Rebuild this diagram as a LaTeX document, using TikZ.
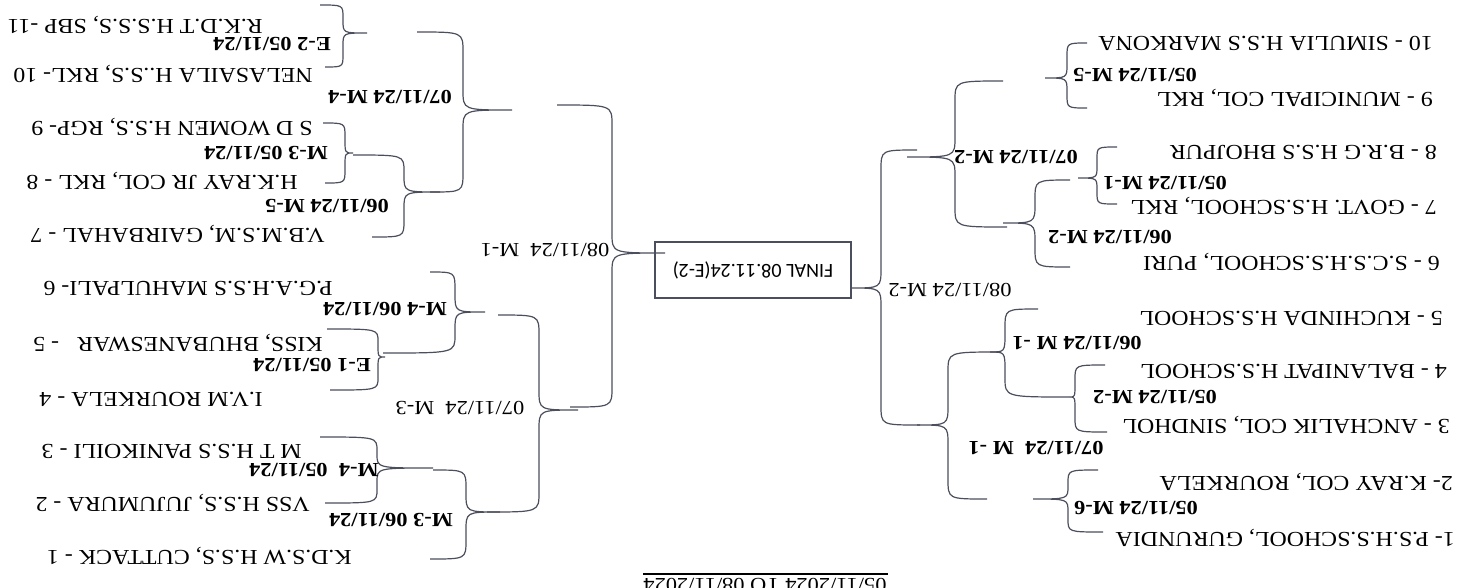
\documentclass[tikz,border=0pt]{standalone}
\usepackage{fontspec}
\setmainfont{Liberation Serif}[FakeStretch=1.12]
\newfontfamily\finalfont{Carlito}
\definecolor{bline}{RGB}{75,78,92}

\tikzset{
    team/.style   = {rotate=180, anchor=mid west, inner sep=0pt, font=\fontsize{16}{19}\selectfont},
    datebf/.style = {rotate=180, inner sep=0pt, font=\bfseries\fontsize{15}{18}\selectfont},
    datert/.style = {rotate=180, inner sep=0pt, font=\fontsize{15}{18}\selectfont},
    brace/.style  = {draw=bline, line width=0.9pt},
}

% 括号: 名字, 上端 x, 上端 y, 竖线 x, 尖 x, 尖 y, 下端 x, 下端 y
\newcommand{\matchbrace}[8]{%
    \pgfmathsetmacro\braceR{min(20,0.45*(#6-#3),0.45*(#8-#6))}
    \draw[brace] (#2,#3) .. controls (#4,#3) .. (#4,{#3+\braceR}) -- (#4,{#6-\braceR})
        .. controls (#4,#6) .. (#5,#6) coordinate (#1)
        .. controls (#4,#6) .. (#4,{#6+\braceR}) -- (#4,{#8-\braceR})
        .. controls (#4,#8) .. (#7,#8);
}

\begin{document}
\begin{tikzpicture}[
    x=0.75pt,y=0.75pt,
    yscale=-1,xscale=1,
]
    \clip (0,0) rectangle (1462,587);

    % 左边队伍
    \node[team] (l11) at (263,23)  {R.K.D.T H.S.S.S, SBP -11};
    \node[team] (l10) at (313,72)  {NELASAILA H..S.S, RKL- 10};
    \node[team] (l9)  at (313,125) {S D WOMEN H.S.S, RGP- 9};
    \node[team] (l8)  at (298,179) {H.K.RAY JR COL, RKL - 8};
    \node[team] (l7)  at (325,232) {V.B.M.S.M, GAIRBAHAL - 7};
    \node[team] (l6)  at (333,285) {P.G.A.H.S.S MAHULPALI- 6};
    \node[team] (l5)  at (323,341) {KISS, BHUBANESWAR\ \ \ - 5};
    \node[team] (l4)  at (263,396) {I.V.M ROURKELA - 4};
    \node[team] (l3)  at (302,448) {M T H.S.S PANIKOILI - 3};
    \node[team] (l2)  at (310,501) {VSS H.S.S, JUJUMURA - 2};
    \node[team] (l1)  at (352,554) {K.D.S.W H.S.S, CUTTACK - 1};

    % 右边队伍
    \node[team] (r10) at (1433,40)  {10 - SIMULIA H.S.S MARKONA};
    \node[team] (r9)  at (1433,96)  {9 - MUNICIPAL COL, RKL};
    \node[team] (r8)  at (1437,149) {8 - B.R.G H.S.S BHOJPUR};
    \node[team] (r7)  at (1437,204) {7 - GOVT. H.S.SCHOOL, RKL};
    \node[team] (r6)  at (1440,260) {6 - S.C.S.H.S.SCHOOL, PURI};
    \node[team] (r5)  at (1443,315) {5 - KUCHINDA H.S.SCHOOL};
    \node[team] (r4)  at (1447,368) {4 - BALANIPAT H.S.SCHOOL};
    \node[team] (r3)  at (1450,423) {3 - ANCHALIK COL, SINDHOL};
    \node[team] (r2)  at (1453,480) {2- K.RAY COL, ROURKELA};
    \node[team] (r1)  at (1455,536) {1- P.S.H.S.SCHOOL, GURUNDIA};

    % 左边括号
    \matchbrace{wE2}{320}{5}{343}{367}{33}{325}{67}
    \matchbrace{wM3a}{323}{123}{345}{353}{153}{325}{183}
    \matchbrace{wM5a}{353}{155}{404}{440}{192}{372}{237}
    \matchbrace{wM4b}{417}{32}{463}{512}{110}{430}{192}
    \matchbrace{wM1c}{557}{105}{612}{665}{253}{570}{407}
    \matchbrace{wM3c}{498}{315}{539}{578}{410}{487}{512}
    \matchbrace{wM4a}{430}{272}{455}{485}{312}{383}{353}
    \matchbrace{wE1}{327}{329}{378}{385}{357}{330}{390}
    \matchbrace{wM4z}{320}{437}{377}{433}{468}{325}{503}
    \matchbrace{wM3b}{433}{470}{466}{500}{512}{430}{559}

    % 右边括号
    \matchbrace{wM5r}{1087}{43}{1067}{1045}{78}{1087}{108}
    \matchbrace{wM1r}{1117}{147}{1097}{1078}{178}{1117}{204}
    \matchbrace{wM2r}{1070}{180}{1035}{1003}{223}{1070}{267}
    \matchbrace{wM2s}{1003}{81}{955}{907}{157}{1007}{227}
    \matchbrace{wM2f}{917}{150}{881}{850}{288}{920}{425}
    \matchbrace{wM1s}{1038}{309}{1005}{990}{352}{1070}{397}
    \matchbrace{wM2t}{1105}{365}{1075}{1070}{397}{1107}{432}
    \matchbrace{wM1t}{1000}{352}{948}{917}{425}{987}{499}
    \matchbrace{wM6}{1098}{470}{1068}{1033}{499}{1103}{532}

    % 比赛日期
    \node[datebf] (mE2)  at (272,44)  {E-2 05/11/24};
    \node[datebf] (mM3a) at (266,153) {M-3 05/11/24};
    \node[datebf] (mM5a) at (327,206) {06/11/24 M-5};
    \node[datebf] (mM4b) at (390,97)  {07/11/24 M-4};
    \node[datert] (mM1c) at (545,250) {08/11/24\ \ M-1};
    \node[datert] (mM3c) at (460,408) {07/11/24\ \ M-3};
    \node[datebf] (mM4a) at (385,309) {M-4 06/11/24};
    \node[datebf] (mE1)  at (312,365) {E-1 05/11/24};
    \node[datebf] (mM4z) at (314,470) {M-4\ \ 05/11/24};
    \node[datebf] (mM3b) at (391,520) {M-3 06/11/24};

    \node[datebf] (mM5r) at (1135,75)  {05/11/24 M-5};
    \node[datebf] (mM2s) at (1016,157) {07/11/24 M-2};
    \node[datebf] (mM1r) at (1165,183) {05/11/24 M-1};
    \node[datebf] (mM2r) at (1110,237) {06/11/24 M-2};
    \node[datert] (mM2f) at (950,290)  {08/11/24 M-2};
    \node[datebf] (mM1s) at (1077,343) {06/11/24 M -1};
    \node[datebf] (mM2t) at (1155,397) {05/11/24 M-2};
    \node[datebf] (mM1t) at (1036,448) {07/11/24\ \ M -1};
    \node[datebf] (mM6)  at (1136,508) {05/11/24 M-6};

    % 决赛
    \node[draw=bline, line width=0.9pt, rotate=180,
        minimum width=147pt, minimum height=42pt,
        font=\finalfont\fontsize{15}{18}\selectfont
    ] (final) at (753,270) {FINAL 08.11.24(E-2)};

    % 标题
    \node[datert, anchor=base] (title) at (765,578) {05/11/2024 TO 08/11/2024};
    \draw[line width=0.9pt] (643,574) -- (888,574);
\end{tikzpicture}
\end{document}
